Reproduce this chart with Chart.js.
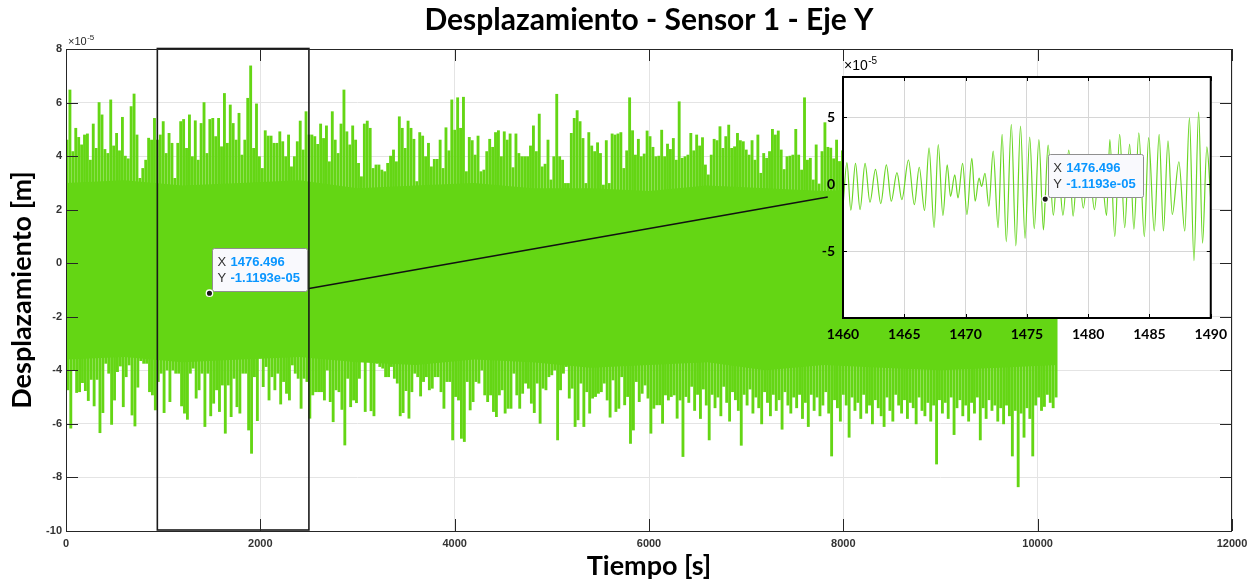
<!DOCTYPE html>
<html>
<head>
<meta charset="utf-8">
<title>Desplazamiento - Sensor 1 - Eje Y</title>
<script src="https://cdn.jsdelivr.net/npm/chart.js@4.4.1/dist/chart.umd.min.js"></script>
<style>
  html, body { margin: 0; padding: 0; background: #ffffff; }
  #wrap { position: relative; width: 1255px; height: 582px; overflow: hidden; }
  #main { position: absolute; left: 0; top: 0; }
  #detail { position: absolute; left: 815px; top: 55px; }
</style>
</head>
<body>
<div id="wrap">
  <canvas id="main" width="1255" height="582"></canvas>
  <canvas id="detail" width="420" height="295"></canvas>
</div>
<script>
// ---------------------------------------------------------------
// Data (displacement in units of 1e-5 m, time in s)
// ---------------------------------------------------------------
const UNIT = 1e-5;              // axis multiplier shown as x10^-5
const binWidth = 30;            // s, width of each envelope bin

// Upper extreme in each 30 s bin
const upperPeaks = [
  4.6, 6.47, 4.17, 5.04, 4.7, 4.42, 4.79, 4.83, 3.85, 5.2,
  4.29, 6.0, 5.54, 4.25, 4.1, 6.1, 4.38, 4.85, 4.2, 5.45,
  4.0, 3.9, 5.85, 6.32, 4.79, 3.17, 3.54, 3.85, 4.67, 4.6,
  5.41, 4.6, 4.79, 5.29, 4.1, 4.85, 4.48, 3.17, 4.48, 5.29,
  5.37, 4.29, 5.54, 3.98, 5.32, 3.85, 5.22, 6.0, 4.1, 5.37,
  5.41, 4.73, 5.41, 4.35, 6.34, 4.48, 5.91, 5.22, 4.6, 5.6,
  4.04, 4.6, 6.16, 7.37, 4.29, 5.95, 3.98, 3.54, 4.95, 4.75,
  4.75, 4.48, 4.48, 4.91, 4.54, 3.98, 4.79, 3.6, 3.98, 4.54,
  5.31, 4.23, 5.66, 4.79, 4.79, 4.73, 4.44, 5.2, 4.66, 5.13,
  3.79, 5.66, 4.6, 4.1, 5.2, 6.47, 4.91, 4.42, 5.13, 4.6,
  3.73, 3.23, 5.2, 5.31, 5.04, 3.54, 3.67, 3.67, 3.48, 3.42,
  3.73, 4.0, 4.23, 3.79, 5.47, 5.04, 4.29, 5.31, 5.04, 4.63,
  3.05, 4.88, 4.75, 3.98, 4.48, 3.6, 3.88, 3.88, 4.6, 3.54,
  5.06, 4.2, 6.1, 4.97, 6.18, 5.04, 6.2, 3.42, 4.7, 4.58,
  4.04, 4.75, 3.42, 3.48, 4.17, 4.63, 4.33, 4.88, 4.95, 3.98,
  4.91, 4.6, 4.83, 3.57, 4.83, 4.1, 3.98, 3.98, 3.98, 4.38,
  5.13, 4.17, 5.57, 3.6, 3.7, 4.6, 3.11, 3.98, 6.31, 3.98,
  3.85, 2.98, 2.98, 4.85, 5.41, 5.7, 5.29, 4.66, 2.98, 4.88,
  4.38, 4.17, 4.5, 4.1, 2.92, 4.58, 2.98, 4.83, 4.79, 4.83,
  4.88, 3.54, 4.2, 6.18, 4.95, 4.04, 4.63, 3.98, 4.08, 4.94,
  4.73, 4.33, 3.98, 4.0, 4.97, 3.98, 4.45, 4.25, 4.66, 3.85,
  6.03, 3.92, 3.98, 4.04, 4.85, 4.2, 4.79, 4.38, 4.69, 3.67,
  3.3, 4.04, 4.63, 4.58, 5.1, 4.29, 4.73, 5.16, 4.29, 4.35,
  4.85, 4.58, 4.54, 4.23, 4.04, 4.58, 3.85, 4.79, 3.36, 4.1,
  3.92, 4.17, 5.0, 4.79, 4.94, 4.23, 3.5, 3.98, 4.0, 4.04,
  5.0, 4.04, 3.48, 6.18, 3.85, 3.92, 3.11, 4.42, 2.96, 4.17,
  5.25, 4.33, 4.3, 3.9, 4.6, 3.8, 4.2, 4.9, 3.7, 4.5,
  5.1, 3.9, 4.4, 4.8, 3.6, 4.3, 5.2, 4.1, 3.8, 4.6,
  4.9, 4.2, 3.5, 4.7, 5.3, 4.0, 4.4, 3.7, 4.8, 4.5,
  3.9, 5.0, 4.3, 4.6, 3.8, 4.9, 4.2, 5.4, 3.9, 4.4,
  4.7, 4.1, 3.6, 4.8, 4.5, 5.1, 3.9, 4.3, 4.6, 4.0,
  5.2, 4.4, 3.8, 4.7, 4.2, 4.9, 4.5, 3.7, 5.0, 4.3,
  4.6, 4.1, 4.8, 3.9, 4.4, 5.1, 4.2, 3.8, 4.7, 4.5,
  4.0, 4.9, 4.3, 3.6, 4.6, 4.8, 4.1, 4.4, 3.9, 4.2
];

// Lower extreme in each 30 s bin
const lowerPeaks = [
  -4.73, -6.16, -3.99, -4.83, -4.8, -4.46, -4.76, -5.13, -4.34, -5.33,
  -4.34, -6.33, -5.58, -3.74, -4.11, -6.02, -5.11, -4.05, -3.84, -5.36,
  -4.24, -3.8, -5.67, -6.08, -4.63, -3.64, -3.74, -3.74, -4.8, -4.92,
  -5.48, -4.42, -4.11, -5.58, -3.99, -5.17, -3.99, -4.11, -4.11, -5.33,
  -5.6, -5.83, -4.11, -3.92, -5.04, -4.73, -4.11, -6.1, -4.11, -5.7,
  -5.23, -4.73, -5.54, -4.55, -6.35, -4.55, -5.73, -4.3, -5.36, -5.6,
  -4.11, -4.11, -6.23, -7.1, -4.24, -5.88, -3.55, -4.61, -3.86, -5.11,
  -4.24, -4.73, -4.11, -5.26, -4.42, -4.86, -5.11, -3.8, -4.11, -4.3,
  -5.42, -4.3, -4.42, -5.79, -4.92, -4.8, -4.8, -4.8, -5.11, -3.99,
  -5.17, -5.92, -4.73, -4.8, -5.46, -6.79, -4.3, -5.36, -5.11, -5.21,
  -4.3, -3.43, -5.54, -3.55, -5.51, -5.7, -3.74, -3.86, -3.92, -4.24,
  -4.24, -3.86, -4.3, -4.48, -5.7, -5.58, -4.76, -5.79, -4.8, -4.11,
  -4.24, -4.96, -4.42, -4.24, -4.73, -4.67, -4.24, -4.24, -4.8, -5.42,
  -4.42, -4.42, -6.6, -4.98, -5.11, -6.54, -6.66, -4.42, -5.48, -5.17,
  -4.42, -4.48, -3.99, -4.92, -5.17, -4.92, -5.54, -5.73, -4.92, -4.73,
  -5.6, -5.42, -5.42, -4.11, -4.92, -5.42, -4.86, -4.48, -4.67, -5.23,
  -5.58, -4.48, -5.98, -4.67, -4.73, -4.24, -4.17, -3.99, -6.6, -4.73,
  -4.11, -3.86, -5.04, -4.67, -6.1, -5.85, -4.48, -6.1, -4.8, -5.6,
  -5.04, -4.98, -4.86, -4.8, -4.48, -5.11, -5.75, -4.36, -5.54, -5.42,
  -4.24, -5.29, -4.98, -6.73, -6.23, -4.42, -5.17, -4.86, -4.55, -5.04,
  -6.35, -5.42, -5.29, -5.29, -5.98, -4.92, -5.11, -4.98, -4.92, -5.79,
  -5.11, -7.22, -4.98, -5.2, -4.6, -5.5, -4.9, -5.8, -4.7, -5.3,
  -6.6, -4.9, -5.4, -5.0, -5.7, -4.6, -5.2, -5.9, -4.8, -5.1,
  -5.5, -6.8, -4.9, -5.3, -4.7, -5.6, -5.0, -5.4, -6.0, -4.8,
  -5.2, -5.7, -4.9, -5.5, -5.1, -6.2, -4.8, -5.3, -5.6, -5.0,
  -5.4, -4.9, -5.8, -5.2, -6.1, -4.9, -5.5, -5.0, -5.7, -5.3,
  -4.8, -5.6, -7.2, -5.1, -5.4, -5.9, -4.9, -5.3, -6.5, -5.0,
  -5.5, -5.2, -5.8, -4.9, -5.6, -5.3, -6.0, -5.1, -5.4, -5.7,
  -6.1, -5.0, -5.5, -5.9, -4.9, -5.3, -5.6, -5.1, -5.8, -5.2,
  -5.4, -6.0, -5.0, -5.5, -5.7, -5.2, -5.9, -5.3, -7.5, -5.1,
  -5.6, -5.2, -5.8, -5.0, -6.4, -5.4, -5.1, -5.7, -5.3, -5.9,
  -5.2, -5.6, -5.0, -6.6, -5.4, -5.8, -5.1, -5.5, -5.3, -5.9,
  -5.4, -6.0, -5.3, -5.7, -7.2, -5.5, -8.35, -5.6, -6.5, -5.4,
  -5.8, -7.2, -5.3, -5.0, -5.5, -5.35, -4.9, -5.2, -5.4, -5.0
];

// Limits of the densely filled part of the record (every 600 s)
const coreTime   = [0, 600, 1200, 1800, 2400, 3000, 3600, 4200, 4800, 5400,
                    6000, 6600, 7200, 7800, 8400, 9000, 9600, 10200];
const coreTop    = [3.0, 3.1, 2.9, 3.0, 3.1, 2.8, 2.9, 3.0, 2.8, 2.8,
                    2.7, 2.9, 2.8, 2.7, 2.8, 2.9, 2.8, 2.7];
const coreBottom = [-3.6, -3.5, -3.7, -3.6, -3.5, -3.7, -3.8, -3.6, -3.7, -3.9,
                    -3.8, -3.7, -4.0, -3.8, -3.9, -4.0, -3.9, -3.8];

// Main axes ticks
const xTicks = [0, 2000, 4000, 6000, 8000, 10000, 12000];
const yTicks = [-10, -8, -6, -4, -2, 0, 2, 4, 6, 8];

// Window enlarged in the detail view, and its connector
const zoomWindow = [940, 2500];
const linkFrom = [2501, -0.94];
const linkTo = [7840, 2.47];

// Data tip
const tipX = 1476.496;
const tipY = -1.1193e-05;

// Detail view: local extrema of the signal between 1460 s and 1490 s
const detailTime = [
  1460.00, 1460.32, 1460.64, 1461.02, 1461.39, 1461.80, 1462.20, 1462.65, 1463.08, 1463.54,
  1463.94, 1464.40, 1464.80, 1465.34, 1465.82, 1466.22, 1466.65, 1467.02, 1467.43, 1467.77,
  1468.15, 1468.50, 1468.77, 1469.12, 1469.38, 1469.76, 1470.11, 1470.51, 1470.78, 1471.10,
  1471.31, 1471.58, 1471.90, 1472.25, 1472.65, 1472.98, 1473.32, 1473.73, 1474.10, 1474.48,
  1474.85, 1475.23, 1475.60, 1475.98, 1476.35, 1476.496, 1476.73, 1477.16, 1477.53, 1477.94,
  1478.42, 1478.77, 1479.17, 1479.60, 1480.05, 1480.51, 1480.97, 1481.50, 1481.77, 1482.17,
  1482.57, 1482.98, 1483.38, 1483.73, 1484.13, 1484.58, 1484.93, 1485.39, 1485.79, 1486.14,
  1486.51, 1486.86, 1487.40, 1487.88, 1488.26, 1488.63, 1489.01, 1489.33, 1489.68, 1490.00
];
const detailValue = [
  -1.65, 1.60, -1.95, 1.55, -1.90, 1.55, -1.35, 1.10, -1.45, 1.43,
  -1.28, 0.86, -1.16, 1.80, -1.53, 1.26, -1.97, 2.71, -3.25, 2.96,
  -2.34, 1.43, -0.91, 0.69, -1.03, 1.55, -2.27, 1.92, -1.28, 0.44,
  -0.17, 0.81, -1.65, 2.46, -3.25, 3.72, -4.31, 4.46, -4.61, 4.33,
  -4.06, 3.52, -3.33, 3.33, -3.42, -1.1193, 2.91, -2.32, 1.80, -2.32,
  2.54, -2.39, 2.00, -1.80, 1.70, -1.90, 2.10, -2.34, 3.33, -3.92,
  3.72, -3.25, 2.98, -3.37, 3.82, -3.92, 3.47, -3.50, 3.72, -3.50,
  3.23, -2.27, 1.67, -3.50, 4.95, -5.71, 5.37, -4.41, 2.78, -1.16
];
const detailXTicks = [1460, 1465, 1470, 1475, 1480, 1485, 1490];
const detailYTicks = [-5, 0, 5];

// ---------------------------------------------------------------
// Styling
// ---------------------------------------------------------------
const GREEN = '#64d614';
const AXIS = '#262626';
const TIP_BLUE = '#0a96ff';

// Excursions beyond the dense band: one thin floating bar per bin
function spikeBars(vals, offset) {
  return vals.map((v, k) => ({ x: k * binWidth + offset, y: v >= 0 ? [0, v] : [v, 0] }));
}

function fixedTicks(list) {
  return scale => { scale.ticks = list.map(v => ({ value: v })); };
}

function crisp(v) { return Math.round(v) + 0.5; }

// Data tip: marker plus a two-line label box
function drawTip(ctx, px, py, xText, yText) {
  const w = 95, h = 43;
  const left = px + 2.5, top = py - 2.5 - h;
  ctx.save();
  ctx.fillStyle = '#f9f9fd';
  ctx.strokeStyle = '#8f8f8f';
  ctx.lineWidth = 1;
  ctx.beginPath();
  if (ctx.roundRect) ctx.roundRect(crisp(left), crisp(top), w, h, 2);
  else ctx.rect(crisp(left), crisp(top), w, h);
  ctx.fill();
  ctx.stroke();

  ctx.textBaseline = 'middle';
  ctx.textAlign = 'left';
  const rows = [['X', xText], ['Y', yText]];
  rows.forEach((r, i) => {
    const ty = top + 15 + i * 16;
    ctx.font = "13px 'Liberation Sans', Arial, sans-serif";
    ctx.fillStyle = '#333333';
    ctx.fillText(r[0], left + 5.5, ty);
    ctx.font = "bold 13px 'Liberation Sans', Arial, sans-serif";
    ctx.fillStyle = TIP_BLUE;
    ctx.fillText(r[1], left + 18.5, ty);
  });

  ctx.beginPath();
  ctx.arc(px, py, 3.2, 0, Math.PI * 2);
  ctx.fillStyle = '#1a1a1a';
  ctx.fill();
  ctx.lineWidth = 1.3;
  ctx.strokeStyle = '#ffffff';
  ctx.stroke();
  ctx.restore();
}

function drawExponent(ctx, x, y, baseSize, supSize, color) {
  ctx.save();
  ctx.fillStyle = color;
  ctx.textAlign = 'left';
  ctx.textBaseline = 'alphabetic';
  ctx.font = baseSize + "px 'Liberation Sans', Arial, sans-serif";
  const base = '\u00d710';
  ctx.fillText(base, x, y);
  const bw = ctx.measureText(base).width;
  ctx.font = supSize + "px 'Liberation Sans', Arial, sans-serif";
  ctx.fillText('-5', x + bw + 0.5, y - baseSize * 0.45);
  ctx.restore();
}

const tipXText = tipX.toFixed(3);
const tipYText = (function (v) {
  const e = Math.floor(Math.log10(Math.abs(v)));
  const m = (v / Math.pow(10, e)).toFixed(4);
  const es = (e < 0 ? '-' : '+') + String(Math.abs(e)).padStart(2, '0');
  return m + 'e' + es;
})(tipY);

// ---------------------------------------------------------------
// Main chart decorations
// ---------------------------------------------------------------
const mainDecor = {
  id: 'mainDecor',
  afterDatasetsDraw(chart) {
    const { ctx, scales: { x, y } } = chart;
    ctx.save();
    // enlarged window
    const x0 = x.getPixelForValue(zoomWindow[0]);
    const x1 = x.getPixelForValue(zoomWindow[1]);
    const yt = y.getPixelForValue(yTicks[yTicks.length - 1]);
    const yb = y.getPixelForValue(yTicks[0]);
    ctx.strokeStyle = '#1a1a1a';
    ctx.lineWidth = 1.6;
    ctx.strokeRect(x0, yt - 0.5, x1 - x0, yb - yt - 0.5);
    // connector to the detail view
    ctx.beginPath();
    ctx.moveTo(x.getPixelForValue(linkFrom[0]), y.getPixelForValue(linkFrom[1]));
    ctx.lineTo(x.getPixelForValue(linkTo[0]), y.getPixelForValue(linkTo[1]));
    ctx.lineWidth = 1.5;
    ctx.strokeStyle = '#111111';
    ctx.stroke();
    ctx.restore();
  },
  afterDraw(chart) {
    const { ctx, chartArea: a, scales: { x, y } } = chart;
    ctx.save();
    ctx.strokeStyle = AXIS;
    ctx.lineWidth = 1;
    const TL = 12;
    ctx.beginPath();
    xTicks.forEach(v => {
      const px = crisp(x.getPixelForValue(v));
      ctx.moveTo(px, a.bottom); ctx.lineTo(px, a.bottom - TL);
      ctx.moveTo(px, a.top); ctx.lineTo(px, a.top + TL);
    });
    yTicks.forEach(v => {
      const py = crisp(y.getPixelForValue(v));
      ctx.moveTo(a.left, py); ctx.lineTo(a.left + TL, py);
      ctx.moveTo(a.right, py); ctx.lineTo(a.right - TL, py);
    });
    ctx.stroke();
    ctx.strokeRect(crisp(a.left), crisp(a.top), Math.round(a.right - a.left) - 1, Math.round(a.bottom - a.top));
    ctx.restore();

    drawExponent(ctx, a.left + 2, a.top - 4, 11, 8, AXIS);
    drawTip(ctx, x.getPixelForValue(tipX), y.getPixelForValue(tipY / UNIT), tipXText, tipYText);
  }
};

const spikeStyle = {
  type: 'bar',
  backgroundColor: GREEN,
  borderWidth: 0,
  barThickness: 2.2,
  grouped: false
};

new Chart(document.getElementById('main'), {
  type: 'line',
  data: {
    datasets: [
      {
        data: coreTime.map((t, i) => ({ x: t, y: coreTop[i] })),
        borderColor: GREEN, borderWidth: 0, pointRadius: 0,
        backgroundColor: GREEN, fill: '+1', tension: 0
      },
      {
        data: coreTime.map((t, i) => ({ x: t, y: coreBottom[i] })),
        borderColor: GREEN, borderWidth: 0, pointRadius: 0,
        backgroundColor: GREEN, fill: false, tension: 0
      },
      Object.assign({ data: spikeBars(upperPeaks, binWidth * 0.35) }, spikeStyle),
      Object.assign({ data: spikeBars(lowerPeaks, binWidth * 0.65) }, spikeStyle)
    ]
  },
  options: {
    responsive: false,
    animation: false,
    devicePixelRatio: 1,
    events: [],
    layout: { padding: { left: 0, right: 23, top: 0, bottom: 0 } },
    plugins: {
      legend: { display: false },
      tooltip: { enabled: false },
      title: {
        display: true,
        text: 'Desplazamiento - Sensor 1 - Eje Y',
        fullSize: false,
        color: '#000000',
        font: { family: 'Lato', size: 30, weight: 'bold' },
        padding: { top: 2.5, bottom: 10.5 }
      }
    },
    scales: {
      x: {
        type: 'linear',
        min: 0, max: 12000,
        offset: false,
        afterBuildTicks: fixedTicks(xTicks),
        afterFit: s => { s.height = 51; },
        grid: { color: '#e4e4e4', drawTicks: false, offset: false },
        border: { display: false },
        ticks: {
          maxRotation: 0, autoSkip: false, padding: 6,
          color: '#333333',
          font: { family: 'Liberation Sans', size: 11, weight: 'bold' },
          callback: v => String(v)
        },
        title: {
          display: true, text: 'Tiempo [s]', color: '#000000',
          font: { family: 'Lato', size: 27, weight: 'bold' },
          padding: { top: 0, bottom: 0 }
        }
      },
      y: {
        type: 'linear',
        min: -10, max: 8,
        afterBuildTicks: fixedTicks(yTicks),
        afterFit: s => { s.width = 66; },
        grid: { color: '#e4e4e4', drawTicks: false },
        border: { display: false },
        ticks: {
          autoSkip: false, padding: 4,
          color: '#333333',
          font: { family: 'Liberation Sans', size: 11, weight: 'bold' },
          callback: v => String(v)
        },
        title: {
          display: true, text: 'Desplazamiento [m]', color: '#000000',
          font: { family: 'Lato', size: 27, weight: 'bold' },
          padding: { top: 6, bottom: 0 }
        }
      }
    }
  },
  plugins: [mainDecor]
});

// ---------------------------------------------------------------
// Detail view (1460 s – 1490 s)
// ---------------------------------------------------------------
const detailDecor = {
  id: 'detailDecor',
  beforeDraw(chart) {
    const { ctx, chartArea: a } = chart;
    ctx.save();
    ctx.fillStyle = '#ffffff';
    ctx.fillRect(a.left, a.top, a.right - a.left, a.bottom - a.top);
    ctx.restore();
  },
  afterDraw(chart) {
    const { ctx, chartArea: a, scales: { x, y } } = chart;
    ctx.save();
    ctx.strokeStyle = '#000000';
    ctx.lineWidth = 1;
    const TL = 4;
    ctx.beginPath();
    detailXTicks.forEach(v => {
      const px = crisp(x.getPixelForValue(v));
      ctx.moveTo(px, a.bottom); ctx.lineTo(px, a.bottom - TL);
      ctx.moveTo(px, a.top); ctx.lineTo(px, a.top + TL);
    });
    detailYTicks.forEach(v => {
      const py = crisp(y.getPixelForValue(v));
      ctx.moveTo(a.left, py); ctx.lineTo(a.left + TL, py);
      ctx.moveTo(a.right, py); ctx.lineTo(a.right - TL, py);
    });
    ctx.stroke();
    ctx.lineWidth = 2;
    ctx.strokeRect(a.left, a.top, a.right - a.left, a.bottom - a.top);
    ctx.restore();

    drawExponent(ctx, a.left + 1, a.top - 7, 14, 10, '#000000');
    drawTip(ctx, x.getPixelForValue(tipX), y.getPixelForValue(tipY / UNIT), tipXText, tipYText);
  }
};

new Chart(document.getElementById('detail'), {
  type: 'line',
  data: {
    datasets: [{
      data: detailTime.map((t, i) => ({ x: t, y: detailValue[i] })),
      borderColor: '#6ad624',
      borderWidth: 1.2,
      pointRadius: 0,
      fill: false,
      cubicInterpolationMode: 'monotone'
    }]
  },
  options: {
    responsive: false,
    animation: false,
    devicePixelRatio: 1,
    events: [],
    layout: { padding: { left: 0, right: 19, top: 22, bottom: 0 } },
    plugins: { legend: { display: false }, tooltip: { enabled: false }, title: { display: false } },
    scales: {
      x: {
        type: 'linear',
        min: 1460, max: 1490,
        afterBuildTicks: fixedTicks(detailXTicks),
        afterFit: s => { s.height = 32; },
        grid: { color: '#d6d6d6', drawTicks: false },
        border: { display: false },
        ticks: {
          maxRotation: 0, autoSkip: false, padding: 8,
          color: '#000000',
          font: { family: 'Lato', size: 14, weight: 'bold' },
          callback: v => String(v)
        }
      },
      y: {
        type: 'linear',
        min: -10, max: 8,
        afterBuildTicks: fixedTicks(detailYTicks),
        afterFit: s => { s.width = 28; },
        grid: { color: '#d6d6d6', drawTicks: false },
        border: { display: false },
        ticks: {
          autoSkip: false, padding: 8,
          color: '#000000',
          font: { family: 'Lato', size: 14, weight: 'bold' },
          callback: v => String(v)
        }
      }
    }
  },
  plugins: [detailDecor]
});
</script>
</body>
</html>
